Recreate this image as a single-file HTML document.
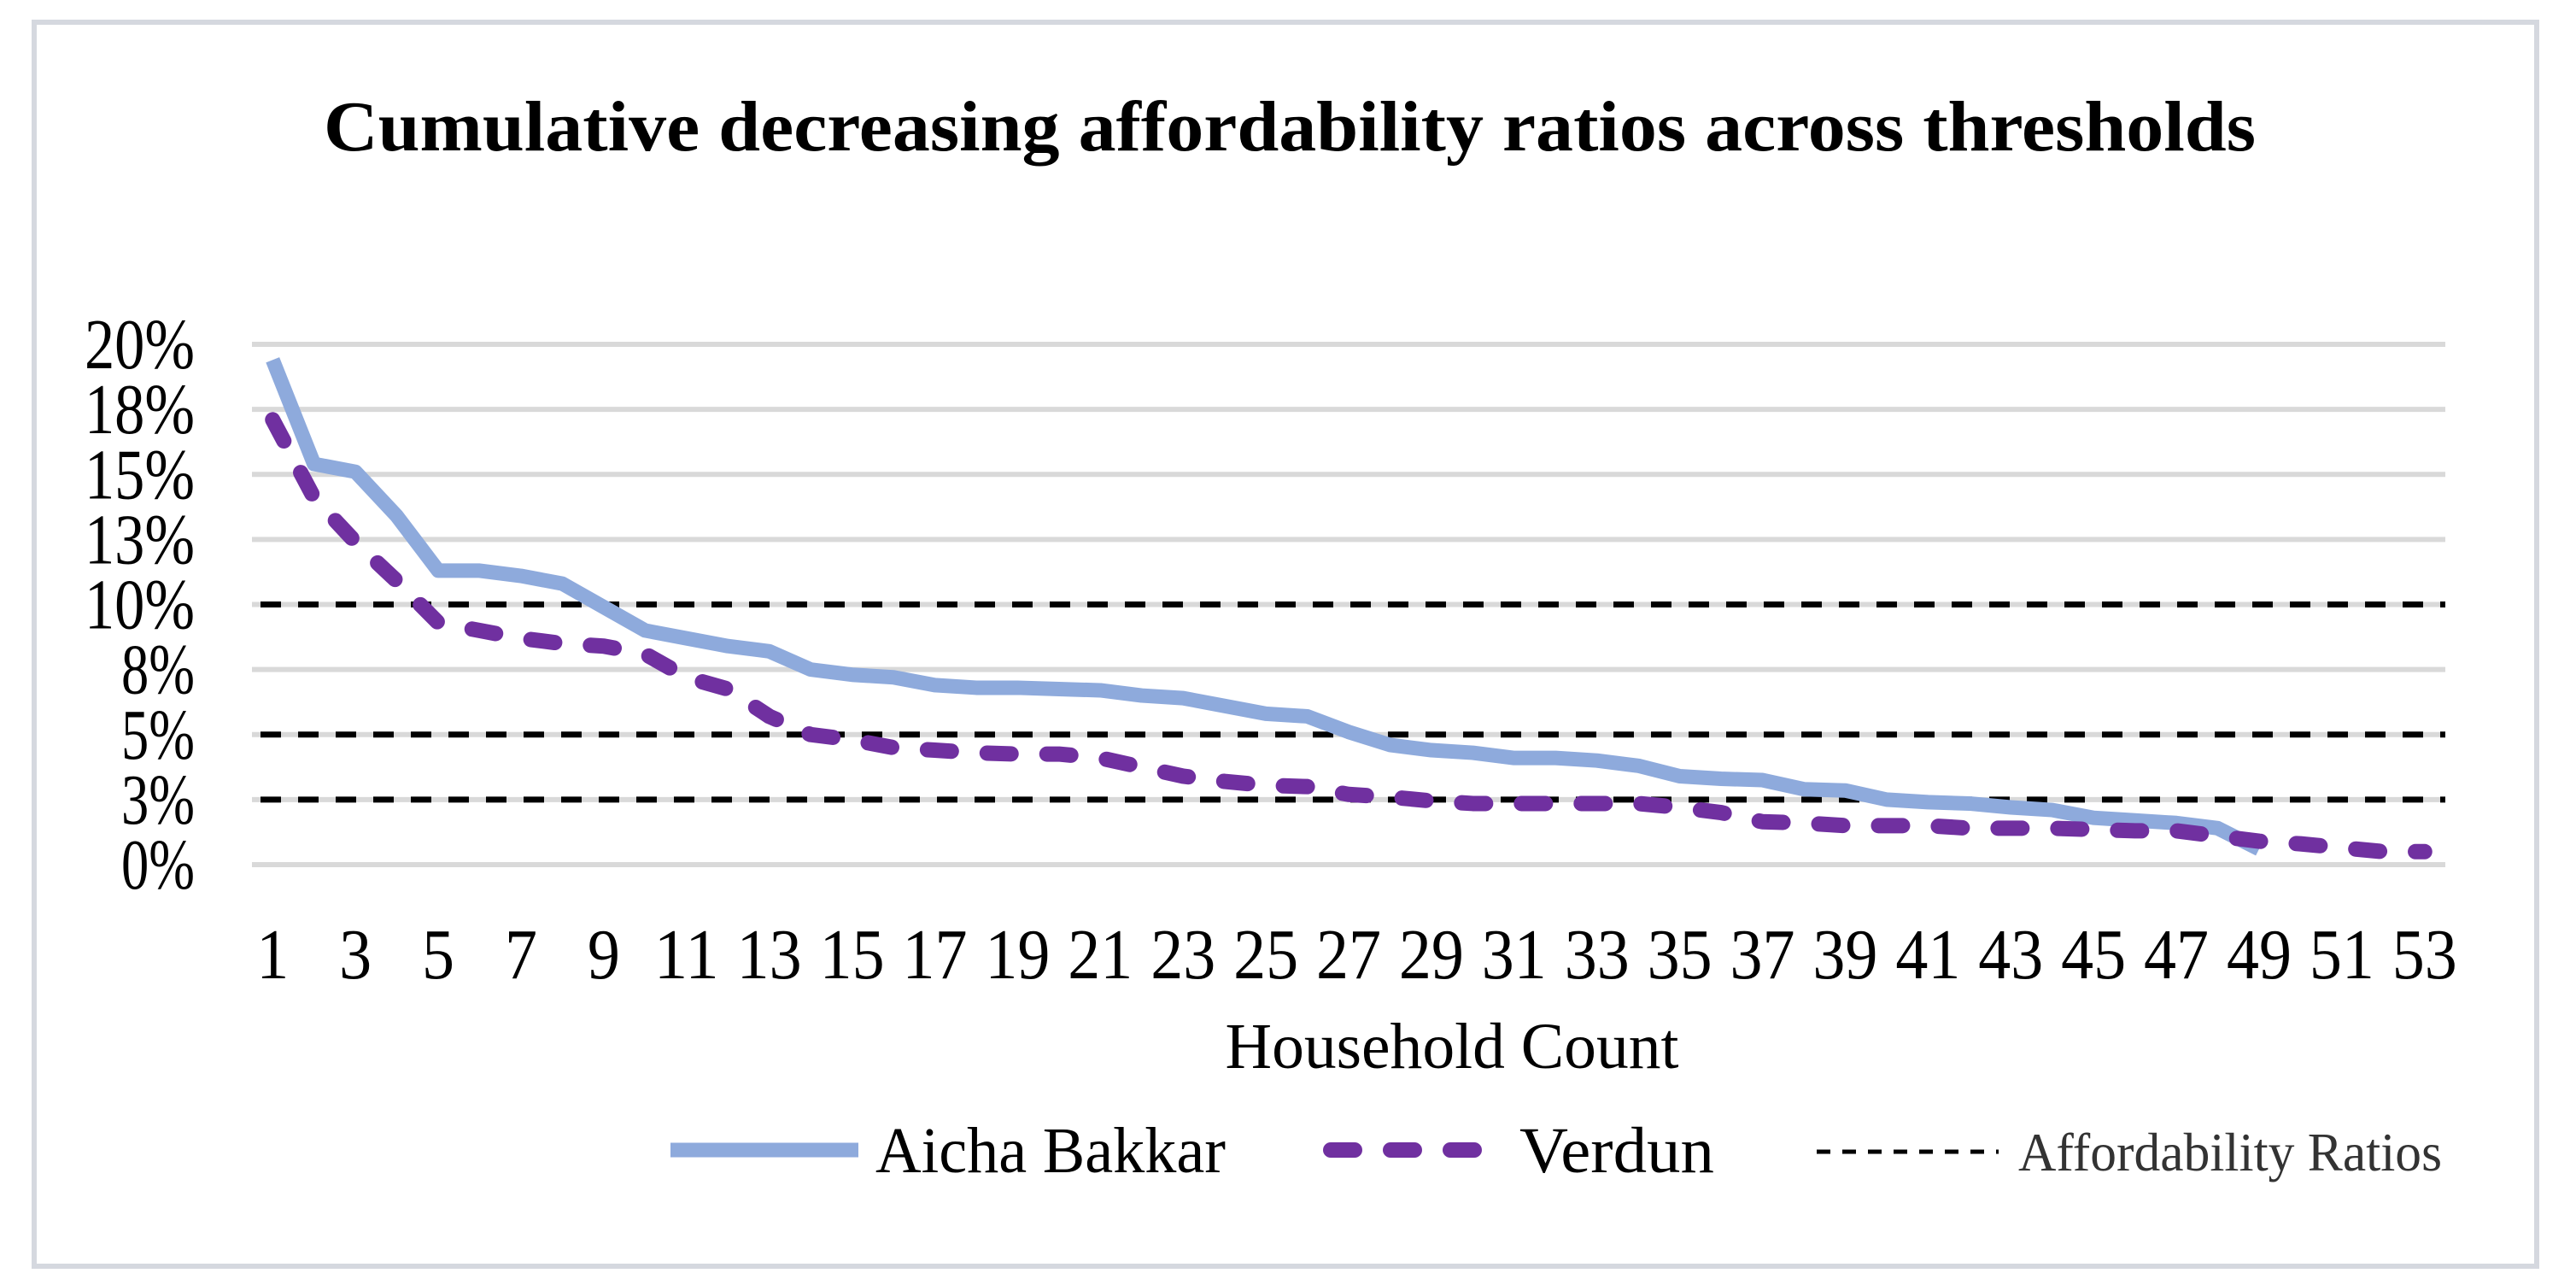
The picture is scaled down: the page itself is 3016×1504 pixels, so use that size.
<!DOCTYPE html>
<html><head><meta charset="utf-8"><style>
html,body{margin:0;padding:0;background:#fff;}
svg{display:block;font-family:"Liberation Serif",serif;}
</style></head><body>
<svg id="chart" width="3016" height="1504" viewBox="0 0 3016 1504">
<rect x="40" y="26" width="2930" height="1456" fill="#fff" stroke="#d5d8df" stroke-width="6"/>
<text x="1510" y="176" text-anchor="middle" font-size="84" font-weight="bold" textLength="2262" lengthAdjust="spacingAndGlyphs">Cumulative decreasing affordability ratios across thresholds</text>
<g id="grid"></g><g id="thresholds"></g><g id="series"></g><g id="ylabels"></g><g id="xlabels"></g>
<text x="1700" y="1250" text-anchor="middle" font-size="76" textLength="531" lengthAdjust="spacingAndGlyphs">Household Count</text>
<g>
<g>
<line x1="785" y1="1346" x2="1005" y2="1346" stroke="#8eaadc" stroke-width="17"/>
<text x="1025" y="1372" font-size="76" textLength="410" lengthAdjust="spacingAndGlyphs">Aicha Bakkar</text></g>
<g>
<line x1="1558" y1="1346" x2="1745" y2="1346" stroke="#7030a0" stroke-width="18" stroke-dasharray="28 42" stroke-linecap="round"/>
<text x="1779" y="1372" font-size="76" textLength="228" lengthAdjust="spacingAndGlyphs">Verdun</text></g>
<g>
<line x1="2127" y1="1348" x2="2340" y2="1348" stroke="#000" stroke-width="5" stroke-dasharray="16 14"/>
<text x="2363" y="1370" font-size="64" fill="#333" textLength="496" lengthAdjust="spacingAndGlyphs">Affordability Ratios</text></g>
</g>
</svg>
<script>
const yTicks=[0,0.025,0.05,0.075,0.1,0.125,0.15,0.175,0.2];
const yTickLabels=["0%","3%","5%","8%","10%","13%","15%","18%","20%"];
const thresholds=[0.1,0.05,0.025];
const aicha=[19.4,15.4,15.1,13.4,11.3,11.3,11.1,10.8,9.9,9.0,8.7,8.4,8.2,7.5,7.3,7.2,6.9,6.8,6.8,6.75,6.7,6.5,6.4,6.1,5.8,5.7,5.1,4.6,4.4,4.3,4.1,4.1,4.0,3.8,3.4,3.3,3.25,2.9,2.85,2.5,2.4,2.35,2.2,2.1,1.8,1.7,1.6,1.4,0.6];
const verdun=[17.1,14.1,12.4,10.9,9.3,9.0,8.7,8.5,8.4,8.1,7.2,6.75,5.7,5.0,4.8,4.5,4.4,4.3,4.25,4.25,4.1,3.75,3.4,3.2,3.05,3.0,2.7,2.6,2.45,2.35,2.35,2.35,2.35,2.35,2.2,2.0,1.65,1.6,1.5,1.5,1.5,1.4,1.4,1.4,1.35,1.3,1.3,1.1,0.9,0.8,0.65,0.5,0.5];
const nCats=53;
const NS="http://www.w3.org/2000/svg";
const L=295,R=2863,T=403,B=1012;
const step=(R-L)/nCats;
function xs(i){return L+step*(i+0.5);}
function ys(v){return B-(v/0.2)*(B-T);}
function mk(tag,attrs,parent){const e=document.createElementNS(NS,tag);for(const k in attrs)e.setAttribute(k,attrs[k]);parent.appendChild(e);return e;}
const grid=document.getElementById('grid');
yTicks.forEach((t,i)=>{
 const l=mk('line',{x1:L,x2:R,y1:ys(t),y2:ys(t),stroke:'#d9d9d9','stroke-width':6},grid);
 
 
 const lab=yTickLabels[i];
 const tx=mk('text',{x:228,y:ys(t)+28,'text-anchor':'end','font-size':84,textLength:lab.length*43,lengthAdjust:'spacingAndGlyphs'},document.getElementById('ylabels'));
 tx.textContent=lab;
 
 
});
thresholds.forEach(t=>{
 const l=mk('line',{x1:L+10,x2:R,y1:ys(t),y2:ys(t),stroke:'#000','stroke-width':7,'stroke-dasharray':'24 20'},document.getElementById('thresholds'));
 
 
});
for(let i=0;i<nCats;i+=2){
 const s=String(i+1);
 const tx=mk('text',{x:xs(i),y:1145,'text-anchor':'middle','font-size':84,textLength:s.length*38,lengthAdjust:'spacingAndGlyphs'},document.getElementById('xlabels'));
 tx.textContent=s;
 
 
}
const ser=document.getElementById('series');
const pa=mk('polyline',{points:aicha.map((v,i)=>xs(i)+','+ys(v/100)).join(' '),fill:'none',stroke:'#8eaadc','stroke-width':17,'stroke-linejoin':'round'},ser);


const pv=mk('polyline',{points:verdun.map((v,i)=>xs(i)+','+ys(v/100)).join(' '),fill:'none',stroke:'#7030a0','stroke-width':18,'stroke-dasharray':'28 42','stroke-linecap':'round','stroke-linejoin':'round'},ser);


</script>
</body></html>
